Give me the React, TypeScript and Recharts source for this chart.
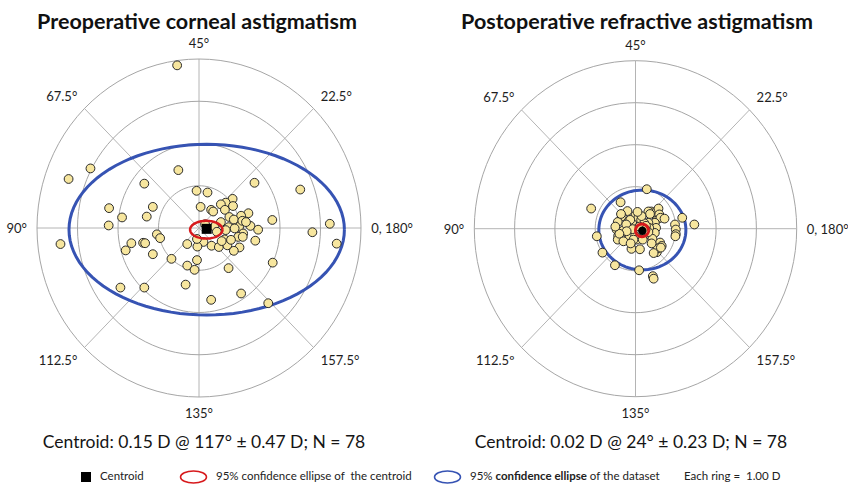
import React from 'react';
import { ScatterChart, Scatter, XAxis, YAxis, ReferenceLine } from 'recharts';

// double-angle plot: axis θ is drawn at 2θ, each ring = 1.00 D
const axisTicks = [0, 22.5, 45, 67.5, 90, 112.5, 135, 157.5];
const preAxisLabels = ['0, 180°', '22.5°', '45°', '67.5°', '90°', '112.5°', '135°', '157.5°'];
const postAxisLabels = ['0, 180°', '22.5°', '45°', '67.5°', '90°', '112.5º', '135°', '157.5°'];
const ringRadii = [1, 2, 3, 4];

// preoperative corneal astigmatism (x, y in D, double-angle)
const preopPoints = [
  { x: -0.54, y: 3.85 }, { x: -3.22, y: 1.16 }, { x: -2.68, y: 1.41 }, { x: -0.51, y: 1.37 },
  { x: -1.35, y: 1.05 }, { x: -0.06, y: 0.88 }, { x: 0.21, y: 0.84 }, { x: -2.22, y: 0.47 },
  { x: -1.14, y: 0.5 }, { x: -1.9, y: 0.25 }, { x: -1.29, y: 0.27 }, { x: 0.04, y: 0.5 },
  { x: -2.23, y: 0.06 }, { x: 1.37, y: 1.07 }, { x: 2.5, y: 0.91 }, { x: 3.23, y: 0.1 },
  { x: 0.83, y: 0.69 }, { x: 0.66, y: 0.6 }, { x: 0.54, y: 0.56 }, { x: 0.3, y: 0.43 },
  { x: 0.35, y: 0.39 }, { x: 0.64, y: 0.43 }, { x: 1.22, y: 0.35 }, { x: 1.04, y: 0.29 },
  { x: 0.75, y: 0.26 }, { x: 0.86, y: 0.2 }, { x: 1.81, y: 0.19 }, { x: 1.27, y: 0.05 },
  { x: 0.99, y: 0.03 }, { x: 0.73, y: 0.02 }, { x: 1.46, y: -0.04 }, { x: 0.38, y: 0.03 },
  { x: 0.88, y: -0.01 }, { x: 1.09, y: -0.13 }, { x: 0.97, y: -0.21 }, { x: 0.63, y: -0.27 },
  { x: 1.39, y: -0.3 }, { x: 0.11, y: -0.33 }, { x: 0.31, y: -0.42 }, { x: 0.49, y: -0.45 },
  { x: 0.7, y: -0.41 }, { x: -0.04, y: -0.44 }, { x: -0.29, y: -0.38 }, { x: 1.0, y: -0.46 },
  { x: 0.86, y: -0.54 }, { x: -0.05, y: -0.76 }, { x: -0.68, y: -0.73 }, { x: -0.29, y: -0.89 },
  { x: -0.11, y: -0.99 }, { x: 0.73, y: -0.95 }, { x: 1.82, y: -0.82 }, { x: -0.33, y: -1.34 },
  { x: 2.8, y: -0.1 }, { x: 3.4, y: -0.37 }, { x: -0.05, y: -0.26 }, { x: 0.56, y: -0.31 },
  { x: 0.66, y: -0.05 }, { x: 0.3, y: -1.7 }, { x: 1.04, y: -1.55 }, { x: 1.71, y: -1.78 },
  { x: -3.42, y: -0.38 }, { x: -1.67, y: -0.36 }, { x: -1.81, y: -0.53 }, { x: -1.38, y: -0.35 },
  { x: -1.33, y: -0.36 }, { x: -1.04, y: -0.15 }, { x: -0.96, y: -0.24 }, { x: -1.14, y: -0.62 },
  { x: -1.94, y: -1.41 }, { x: -1.35, y: -1.41 }, { x: 1.07, y: 0.17 }, { x: 1.08, y: -0.21 },
  { x: 0.44, y: -0.09 }, { x: 1.16, y: 0.14 }, { x: 0.79, y: -0.28 }, { x: 0.15, y: 0.09 },
  { x: 0.84, y: 0.52 }, { x: 0.54, y: 0.14 },
];

// postoperative refractive astigmatism
const postopPoints = [
  { x: 0.28, y: 0.94 }, { x: -1.1, y: 0.48 }, { x: -0.37, y: 0.63 }, { x: -0.2, y: 0.42 },
  { x: -0.34, y: 0.29 }, { x: -0.44, y: 0.16 }, { x: -0.47, y: -0.02 }, { x: -0.43, y: -0.17 },
  { x: -0.44, y: -0.26 }, { x: -0.18, y: 0.17 }, { x: -0.08, y: 0.17 }, { x: -0.18, y: 0.02 },
  { x: -0.24, y: -0.08 }, { x: -0.15, y: -0.17 }, { x: -0.01, y: -0.25 }, { x: -0.01, y: -0.17 },
  { x: 0.15, y: -0.24 }, { x: 0.22, y: -0.17 }, { x: 0.39, y: 0.41 }, { x: 0.45, y: 0.37 },
  { x: 0.51, y: 0.3 }, { x: 0.56, y: 0.24 }, { x: 0.57, y: 0.48 }, { x: 0.59, y: 0.34 },
  { x: 0.62, y: 0.26 }, { x: 0.48, y: 0.14 }, { x: 0.51, y: 0.02 }, { x: 0.48, y: -0.1 },
  { x: 0.42, y: -0.24 }, { x: 0.32, y: 0.14 }, { x: 0.34, y: 0.02 }, { x: 0.32, y: -0.08 },
  { x: 0.61, y: -0.33 }, { x: 0.65, y: -0.41 }, { x: 0.53, y: -0.56 }, { x: 0.98, y: 0.1 },
  { x: 1.0, y: -0.02 }, { x: 1.0, y: -0.13 }, { x: 1.16, y: 0.26 }, { x: 1.46, y: 0.1 },
  { x: -0.1, y: -0.48 }, { x: 0.11, y: -0.49 }, { x: -0.82, y: -0.57 }, { x: -0.51, y: -0.87 },
  { x: 0.09, y: -0.99 }, { x: -0.96, y: -0.18 }, { x: 0.43, y: -1.13 }, { x: 0.45, y: -1.19 },
  { x: 0.0, y: 0.32 }, { x: 0.07, y: 0.26 }, { x: -0.13, y: 0.21 }, { x: 0.14, y: 0.21 },
  { x: -0.3, y: -0.04 }, { x: -0.23, y: 0.1 }, { x: 0.22, y: 0.13 }, { x: 0.26, y: 0.07 },
  { x: 0.55, y: -0.47 }, { x: 0.45, y: -0.58 }, { x: -0.07, y: -0.01 }, { x: 0.03, y: -0.26 },
  { x: -0.36, y: 0.35 }, { x: 0.63, y: -0.45 }, { x: 0.32, y: 0.41 }, { x: 0.36, y: 0.35 },
  { x: -0.05, y: -0.26 }, { x: -0.22, y: -0.06 }, { x: 0.18, y: -0.26 }, { x: 0.1, y: 0.05 },
  { x: 0.25, y: -0.02 }, { x: -0.4, y: -0.12 }, { x: 0.72, y: 0.24 }, { x: 0.99, y: -0.18 },
  { x: -0.3, y: -0.3 }, { x: 0.15, y: 0.3 }, { x: -0.12, y: -0.35 }, { x: 0.4, y: -0.35 },
  { x: 0.05, y: 0.4 }, { x: -0.5, y: 0.05 },
];

const preCentroid = [{ x: 0.19, y: -0.02 }];
const postCentroid = [{ x: 0.17, y: -0.05 }];
// [centre x, centre y, semi-axis x, semi-axis y]
const preCentroidEllipse = [0.18, -0.04, 0.4, 0.21];
const preDatasetEllipse = [0.19, -0.04, 3.4, 2.02];
const postCentroidEllipse = [0.16, -0.04, 0.16, 0.15];
const postDatasetEllipse = [0.17, -0.03, 1.08, 0.95];

const preCaption = 'Centroid: 0.15 D @ 117° ± 0.47 D; N = 78';
const postCaption = 'Centroid: 0.02 D @ 24° ± 0.23 D; N = 78';

const FONT = 'Lato, "Open Sans", sans-serif';
const D = 4.9;
const LABEL_R = 4.25;

const outline = (cx: number, cy: number, rx: number, ry: number) => {
  const pts = [];
  for (let i = 0; i <= 96; i++) {
    const t = (i / 96) * Math.PI * 2;
    pts.push({ x: cx + rx * Math.cos(t), y: cy + ry * Math.sin(t) });
  }
  return pts;
};

const Empty = () => <g />;

const Dot = (p: any) => (
  <circle cx={p.cx} cy={p.cy} r={4.4} fill="#f7e69e" stroke="#2a2a2a" strokeWidth={1} />
);

const AxisLabel = (p: any) => {
  const a = (p.payload.tick * Math.PI) / 90;
  const c = Math.cos(a);
  const s = Math.sin(a);
  const anchor = c > 0.1 ? 'start' : c < -0.1 ? 'end' : 'middle';
  const baseline = s > 0.1 ? 'auto' : s < -0.1 ? 'hanging' : 'central';
  return (
    <text x={p.cx} y={p.cy} textAnchor={anchor} dominantBaseline={baseline} fontSize={13} fill="#1e1e1e" fontFamily={FONT}>
      {p.payload.text}
    </text>
  );
};

type PanelProps = {
  left: number;
  cx: number;
  cy: number;
  sx: number;
  sy: number;
  title: string;
  titleX: number;
  caption: string;
  captionX: number;
  labels: string[];
  points: { x: number; y: number }[];
  centroid: { x: number; y: number }[];
  centroidEllipse: number[];
  datasetEllipse: number[];
  roundCentroid?: boolean;
};

function PolarPanel(props: PanelProps) {
  const { left, cx, cy, sx, sy } = props;
  const mLeft = cx - D * sx;
  const mTop = cy - D * sy;
  const margin = {
    left: mLeft,
    top: mTop,
    right: 424 - mLeft - 2 * D * sx,
    bottom: 487 - mTop - 2 * D * sy,
  };
  const labelData = axisTicks.map((tick, i) => ({
    x: LABEL_R * Math.cos((tick * Math.PI) / 90),
    y: LABEL_R * Math.sin((tick * Math.PI) / 90),
    tick,
    text: props.labels[i],
  }));
  const spokes = [0, 22.5, 45, 67.5].map((tick) => {
    const a = (tick * Math.PI) / 90;
    const r = ringRadii[ringRadii.length - 1];
    return [
      { x: -r * Math.cos(a), y: -r * Math.sin(a) },
      { x: r * Math.cos(a), y: r * Math.sin(a) },
    ];
  });
  const [ex, ey, erx, ery] = props.datasetEllipse;
  const [cex, cey, cerx, cery] = props.centroidEllipse;

  const Centroid = (p: any) =>
    props.roundCentroid ? (
      <circle cx={p.cx} cy={p.cy} r={4.2} fill="#000" />
    ) : (
      <rect x={p.cx - 5} y={p.cy - 5} width={10} height={10} fill="#000" />
    );

  return (
    <div style={{ position: 'absolute', left, top: 0, width: 424, height: 487 }}>
      <ScatterChart width={424} height={487} margin={margin}>
        <XAxis type="number" dataKey="x" domain={[-D, D]} hide />
        <YAxis type="number" dataKey="y" domain={[-D, D]} hide />
        {spokes.map((seg, i) => (
          <ReferenceLine key={'s' + i} segment={seg} stroke="#b4b4b4" strokeWidth={1} />
        ))}
        {ringRadii.map((r) => (
          <Scatter
            key={'r' + r}
            data={outline(0, 0, r, r)}
            line={{ stroke: '#a6a6a6', strokeWidth: 1 }}
            shape={Empty}
            isAnimationActive={false}
          />
        ))}
        <Scatter data={labelData} shape={AxisLabel} isAnimationActive={false} />
        <Scatter
          data={outline(ex, ey, erx, ery)}
          line={{ stroke: '#3653b3', strokeWidth: 3 }}
          shape={Empty}
          isAnimationActive={false}
        />
        <Scatter data={props.points} shape={Dot} isAnimationActive={false} />
        <Scatter
          data={outline(cex, cey, cerx, cery)}
          line={{ stroke: '#d7191c', strokeWidth: props.roundCentroid ? 3 : 2.5 }}
          shape={Empty}
          isAnimationActive={false}
        />
        <Scatter data={props.centroid} shape={Centroid} isAnimationActive={false} />
      </ScatterChart>
      <div
        style={{
          position: 'absolute', left: props.titleX, top: 8, transform: 'translateX(-50%)',
          whiteSpace: 'nowrap', fontSize: 21.5, fontWeight: 700, fontFamily: FONT, color: '#111',
        }}
      >
        {props.title}
      </div>
      <div
        style={{
          position: 'absolute', left: props.captionX, top: 431, transform: 'translateX(-50%)',
          whiteSpace: 'nowrap', fontSize: 17.5, fontFamily: FONT, color: '#151515',
        }}
      >
        {props.caption}
      </div>
    </div>
  );
}

const legendText: React.CSSProperties = {
  position: 'absolute', top: 469, fontSize: 11.5, whiteSpace: 'nowrap', color: '#222',
  fontFamily: '"Liberation Sans Narrow", Lato, sans-serif',
};

export default function App() {
  return (
    <div style={{ position: 'absolute', left: 0, top: 0, width: 848, height: 487, background: '#fff', overflow: 'hidden' }}>
      <PolarPanel
        left={0} cx={199} cy={228} sx={40.5} sy={42.25}
        title="Preoperative corneal astigmatism" titleX={197}
        caption={preCaption} captionX={204}
        labels={preAxisLabels} points={preopPoints} centroid={preCentroid}
        centroidEllipse={preCentroidEllipse} datasetEllipse={preDatasetEllipse}
      />
      <PolarPanel
        left={424} cx={211.5} cy={228.7} sx={40.3} sy={42}
        title="Postoperative refractive astigmatism" titleX={213}
        caption={postCaption} captionX={207}
        labels={postAxisLabels} points={postopPoints} centroid={postCentroid}
        centroidEllipse={postCentroidEllipse} datasetEllipse={postDatasetEllipse}
        roundCentroid
      />
      <svg style={{ position: 'absolute', left: 0, top: 465 }} width={848} height={22}>
        <rect x={81} y={7} width={10} height={10} fill="#000" />
        <ellipse cx={193.5} cy={12} rx={13} ry={6} fill="none" stroke="#d7191c" strokeWidth={1.5} />
        <ellipse cx={447.5} cy={12} rx={13} ry={6} fill="none" stroke="#3653b3" strokeWidth={1.5} />
      </svg>
      <div style={{ ...legendText, left: 100 }}>Centroid</div>
      <div style={{ ...legendText, left: 216 }}>95% confidence ellipse of&nbsp; the centroid</div>
      <div style={{ ...legendText, left: 470 }}>
        95% <b>confidence ellipse</b> of the dataset
      </div>
      <div style={{ ...legendText, left: 684 }}>Each ring =&nbsp; 1.00 D</div>
    </div>
  );
}
